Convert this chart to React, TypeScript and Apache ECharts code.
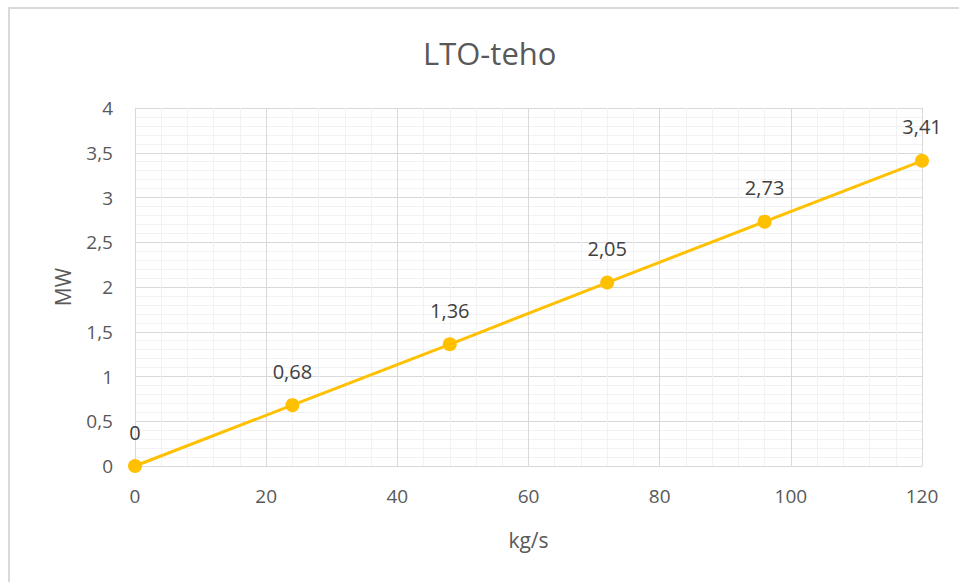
import React, { useEffect, useRef } from "react";
import * as echarts from "echarts";

const title = "LTO-teho";
const xName = "kg/s";
const yName = "MW";
const flowKgS = [0, 24, 48, 72, 96, 120];
const powerMW = [0, 0.68, 1.36, 2.05, 2.73, 3.41];

const FONT = "'Open Sans', 'Noto Sans', sans-serif";
const fmt = (v: number) => String(v).replace(".", ",");

export default function App() {
  const ref = useRef<HTMLDivElement>(null);

  useEffect(() => {
    if (!ref.current) return;
    const chart = echarts.init(ref.current, undefined, { renderer: "svg" });
    chart.setOption({
      animation: false,
      backgroundColor: "#ffffff",
      textStyle: { fontFamily: FONT },
      graphic: [
        {
          type: "rect",
          shape: { x: 9, y: 8, width: 1000, height: 1000 },
          style: { fill: "none", stroke: "#d9d9d9", lineWidth: 2 },
          silent: true,
        },
      ],
      title: {
        text: title,
        left: 418,
        top: 32,
        textStyle: { fontFamily: FONT, fontSize: 31, fontWeight: "normal", color: "#595959" },
      },
      grid: { left: 135, right: 37, top: 108, bottom: 116 },
      xAxis: {
        type: "value",
        min: 0,
        max: 120,
        interval: 20,
        name: xName,
        nameLocation: "middle",
        nameGap: 63,
        nameTextStyle: { fontFamily: FONT, fontSize: 21, color: "#595959" },
        axisLine: { show: true, lineStyle: { color: "#d9d9d9", width: 1 } },
        axisTick: { show: false },
        axisLabel: { fontFamily: FONT, fontSize: 19, color: "#595959", margin: 20 },
        splitLine: { show: true, lineStyle: { color: "#d9d9d9", width: 1 } },
        minorTick: { show: false, splitNumber: 5 },
        minorSplitLine: { show: true, lineStyle: { color: "#f2f2f2", width: 1 } },
      },
      yAxis: {
        type: "value",
        min: 0,
        max: 4,
        interval: 0.5,
        name: yName,
        nameLocation: "middle",
        nameGap: 62,
        nameRotate: 90,
        nameTextStyle: { fontFamily: FONT, fontSize: 21, color: "#595959" },
        axisLine: { show: true, lineStyle: { color: "#d9d9d9", width: 1 } },
        axisTick: { show: false },
        axisLabel: {
          fontFamily: FONT,
          fontSize: 19,
          color: "#595959",
          margin: 22,
          formatter: (v: number) => fmt(v),
        },
        splitLine: { show: true, lineStyle: { color: "#d9d9d9", width: 1 } },
        minorTick: { show: false, splitNumber: 5 },
        minorSplitLine: { show: true, lineStyle: { color: "#f2f2f2", width: 1 } },
      },
      series: [
        {
          type: "line",
          data: flowKgS.map((x, i) => [x, powerMW[i]]),
          color: "#ffc000",
          lineStyle: { color: "#ffc000", width: 3 },
          symbol: "circle",
          symbolSize: 14,
          itemStyle: { color: "#ffc000" },
          label: {
            show: true,
            position: "top",
            distance: 17,
            fontFamily: FONT,
            fontSize: 20,
            color: "#404040",
            formatter: (p: any) => fmt(p.value[1]),
          },
        },
      ],
    });
    return () => chart.dispose();
  }, []);

  return (
    <div
      ref={ref}
      style={{ position: "fixed", left: 0, top: 0, width: 959, height: 582 }}
    />
  );
}
